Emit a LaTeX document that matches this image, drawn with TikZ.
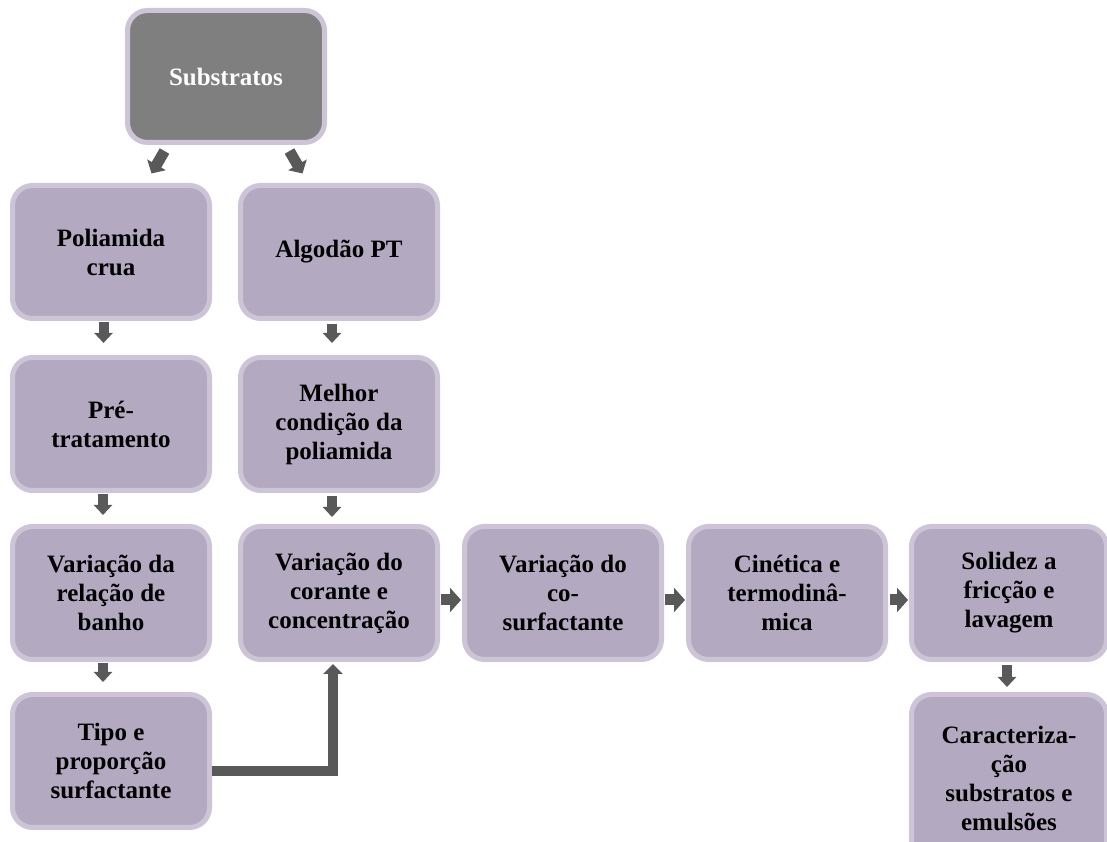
\documentclass[tikz,border=0pt]{standalone}
\usepackage{fontspec}
\setmainfont{Liberation Serif}
\usetikzlibrary{arrows.meta}
\definecolor{boxfill}{RGB}{179,170,193}
\definecolor{boxline}{RGB}{205,197,215}
\definecolor{subfill}{RGB}{127,127,127}
\definecolor{arr}{RGB}{89,89,89}
\tikzset{
  stepbox/.style={draw=boxline, line width=5pt, fill=boxfill, rounded corners=20pt,
    minimum width=197pt, minimum height=133pt, align=center, inner sep=2pt,
    font=\fontsize{25}{29}\selectfont\bfseries, text=black},
  topbox/.style={stepbox, fill=subfill, text=white, minimum height=132pt},
  varr/.style={draw=arr, line width=10pt, -{Triangle[width=18pt,length=10pt]}},
  darr/.style={draw=arr, line width=11pt, -{Triangle[width=21pt,length=10pt]}},
  harr/.style={draw=arr, line width=11pt, -{Triangle[width=24pt,length=11pt]}},
  elb/.style={draw=arr, line width=10pt, -{Triangle[width=19pt,length=10pt]}},
}
\begin{document}
\begin{tikzpicture}[x=1pt,y=1pt]
\useasboundingbox (0,0) rectangle (1107,842);
\node[topbox] (sub) at (226,765.5) {Substratos};
\node[stepbox] (pc) at (111,590) {Poliamida\\crua};
\node[stepbox] (alg) at (339,590) {Algodão PT};
\node[stepbox] (pre) at (111,418) {Pré-\\tratamento};
\node[stepbox] (mel) at (339,418) {Melhor\\condição da\\poliamida};
\node[stepbox] (vrb) at (111,249) {Variação da\\relação de\\banho};
\node[stepbox] (vcc) at (339,249) {Variação do\\corante e\\concentração};
\node[stepbox] (vcs) at (563,249) {Variação do\\co-\\surfactante};
\node[stepbox] (cin) at (787,249) {Cinética e\\termodinâ-\\mica};
\node[stepbox, minimum width=195pt] (sol) at (1009,249) {Solidez a\\fricção e\\lavagem};
\node[stepbox] (tip) at (111,81) {Tipo e\\proporção\\surfactante};
\node[stepbox, minimum width=195pt, minimum height=167pt] (car) at (1009,64) {Caracteriza-\\ção\\substratos e\\emulsões};

% diagonal arrows from Substratos
\draw[darr, shorten <=7pt, shorten >=11pt] ([xshift=-58pt]sub.south) -- ([xshift=35pt]pc.north);
\draw[darr, shorten <=7pt, shorten >=11pt] ([xshift=60pt]sub.south) -- ([xshift=-31pt]alg.north);

% vertical arrows
\draw[varr, shorten <=1pt, shorten >=12pt] ([xshift=-7.5pt]pc.south) -- ([xshift=-7.5pt]pre.north);
\draw[varr, shorten <=3pt, shorten >=12pt] ([xshift=-7pt]alg.south) -- ([xshift=-7pt]mel.north);
\draw[varr, shorten <=1pt, shorten >=9pt] ([xshift=-8pt]pre.south) -- ([xshift=-8pt]vrb.north);
\draw[varr, shorten <=3pt, shorten >=7pt] ([xshift=-7pt]mel.south) -- ([xshift=-7pt]vcc.north);
\draw[varr, shorten <=1pt, shorten >=10pt] ([xshift=-8pt]vrb.south) -- ([xshift=-8pt]tip.north);
\draw[varr, shorten <=3pt, shorten >=5pt] ([xshift=-2pt]sol.south) -- ([xshift=-2pt]car.north);

% horizontal arrows
\draw[harr, shorten <=1pt, shorten >=1pt] ([yshift=-7pt]vcc.east) -- ([yshift=-7pt]vcs.west);
\draw[harr, shorten <=1pt, shorten >=1pt] ([yshift=-7pt]vcs.east) -- ([yshift=-7pt]cin.west);
\draw[harr, shorten <=2pt, shorten >=1pt] ([yshift=-7pt]cin.east) -- ([yshift=-7pt]sol.west);

% elbow connector
\draw[elb, shorten >=2pt] ([yshift=-10pt]tip.east) -| ([xshift=-6pt]vcc.south);
\end{tikzpicture}
\end{document}
